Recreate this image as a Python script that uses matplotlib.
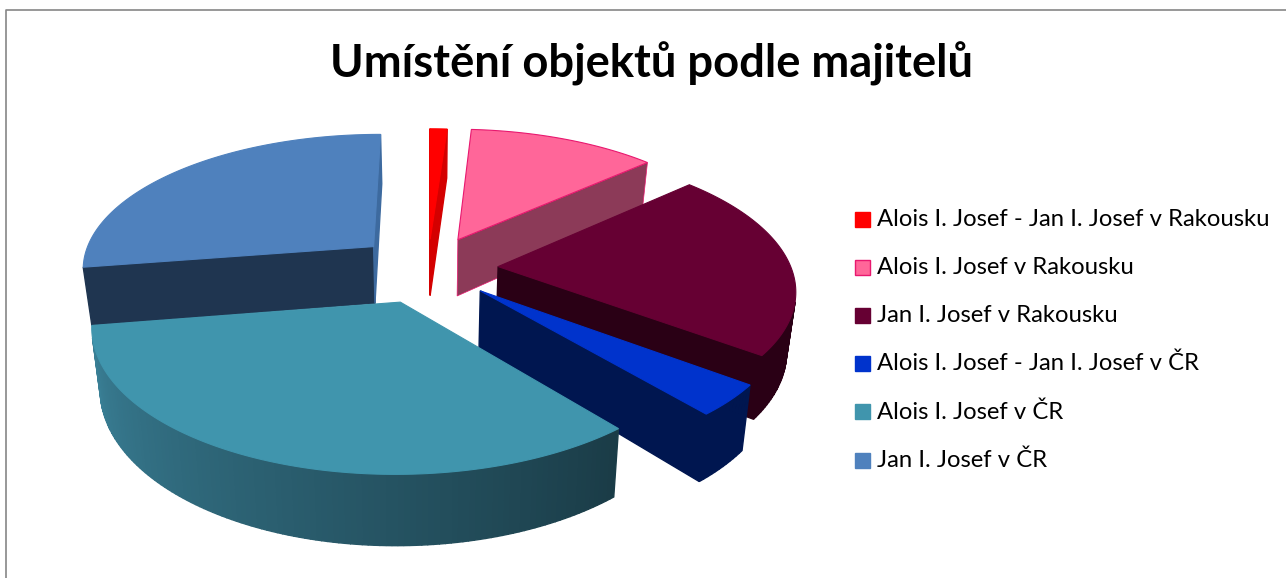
import numpy as np
import matplotlib
matplotlib.use("Agg")
import matplotlib.pyplot as plt
from matplotlib.colors import to_rgb
from matplotlib.patches import Polygon, Rectangle

plt.rcParams["font.family"] = ["Lato", "DejaVu Sans"]

# Data
labels = [
    "Alois I. Josef - Jan I. Josef v Rakousku",
    "Alois I. Josef v Rakousku",
    "Jan I. Josef v Rakousku",
    "Alois I. Josef - Jan I. Josef v ČR",
    "Alois I. Josef v ČR",
    "Jan I. Josef v ČR",
]
values = [4, 44, 79, 13, 121, 99]
explode = [0.22, 0.24, 0.24, 0.24, 0.26, 0.25]

# Colours: top, edge, front radial wall, outer wall (left end, right end)
top_colors = ["#ff0000", "#ff6699", "#660033", "#0033cc", "#4095ad", "#4f81bd"]
edge_colors = ["#ff0000", "#e8186f", "#660033", "#0033cc", "#4095ad", "#4f81bd"]
start_wall = ["#d40000", "#8c3a58", "#2a0015", "#001650", "#1a3b46", "#1f3550"]
end_wall = ["#d40000", "#8c3a58", "#2a0015", "#001650", "#1a3b46", "#3d6a9f"]
outer_start = ["#d40000", "#8c3a58", "#2a0015", "#001650", "#1a3b46", "#1f3550"]
outer_end = ["#d40000", "#8c3a58", "#2a0015", "#001650", "#3b8299", "#1f3550"]
draw_order = [0, 1, 5, 2, 3, 4]

# Projection of the pie plane into the picture
cx, cy = 428, 268
rx, ry = 293, 135
persp = 0.15
wall_h = 58
taper = 0.975  # the base of the pie sits further from the viewer


def project(x, y, drop=0.0):
    w = 1 + persp * y
    scale = taper if drop else 1.0
    return cx + scale * rx * x / w, cy - ry * y / w + drop / w


fig = plt.figure(figsize=(12.86, 5.78), dpi=100)
ax = fig.add_axes([0, 0, 1, 1])
ax.set_xlim(0, 1286)
ax.set_ylim(578, 0)
ax.axis("off")

# Chart frame
ax.plot([6, 6, 1286], [578, 10, 10], color="#868686", linewidth=1.2)

edges = np.cumsum([0] + values) / sum(values) * 2 * np.pi


def area(q):
    q = np.array(q)
    return 0.5 * np.sum(q[:, 0] * np.roll(q[:, 1], -1) - np.roll(q[:, 0], -1) * q[:, 1])


for i in draw_order:
    t0, t1 = edges[i], edges[i + 1]
    mid = (t0 + t1) / 2
    ox, oy = explode[i] * np.sin(mid), explode[i] * np.cos(mid)
    th = np.linspace(t0, t1, max(int((t1 - t0) * 60), 2))
    px = np.concatenate([[ox], ox + np.sin(th), [ox]])
    py = np.concatenate([[oy], oy + np.cos(th), [oy]])
    top_x, top_y = project(px, py)
    bot_x, bot_y = project(px, py, wall_h)

    c_a, c_b = np.array(to_rgb(outer_start[i])), np.array(to_rgb(outer_end[i]))
    for k in range(len(px) - 1):
        quad = [(top_x[k], top_y[k]), (top_x[k + 1], top_y[k + 1]),
                (bot_x[k + 1], bot_y[k + 1]), (bot_x[k], bot_y[k])]
        # y axis runs downward, so front faces have negative area here.
        # back faces stay hidden behind the top, no need to draw them
        if area(quad) >= 0:
            continue
        if k == 0:
            col = start_wall[i]
        elif k == len(px) - 2:
            col = end_wall[i]
        else:
            col = c_a + (c_b - c_a) * (k / (len(px) - 2))
        if i == 1:
            ax.add_patch(Polygon(quad, closed=True, facecolor=col,
                                 edgecolor=edge_colors[i], linewidth=0.5))
        else:
            ax.add_patch(Polygon(quad, closed=True, facecolor=col, edgecolor=col, linewidth=1.0))
    ax.add_patch(Polygon(np.column_stack([top_x, top_y]), closed=True,
                         facecolor=top_colors[i], edgecolor=edge_colors[i], linewidth=0.8))

ax.text(651, 64, "Umístění objektů podle majitelů", ha="center", va="center",
        fontsize=32.7, fontweight="bold", color="black")

# Legend
for i, lab in enumerate(labels):
    y = 219 + 48.2 * i
    ax.add_patch(Rectangle((855, y - 7.5), 15, 15, facecolor=top_colors[i],
                           edgecolor=edge_colors[i], linewidth=1))
    ax.text(877, y, lab, ha="left", va="center", fontsize=17.2, color="black")

fig.savefig("out.png", dpi=100)
